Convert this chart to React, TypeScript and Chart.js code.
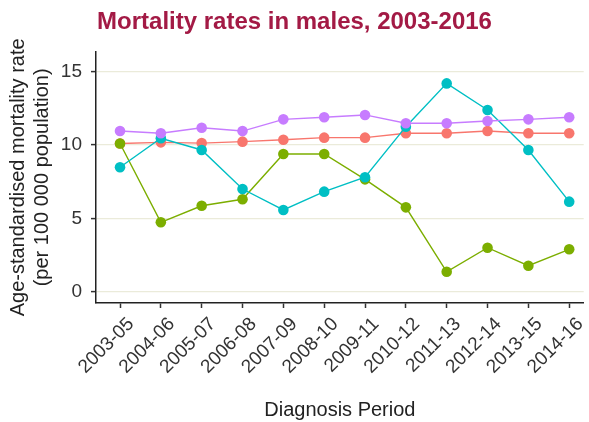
import React, { useEffect, useRef } from "react";
import { Chart, registerables } from "chart.js";

Chart.register(...registerables);

const periods = ["2003-05", "2004-06", "2005-07", "2006-08", "2007-09", "2008-10", "2009-11", "2010-12", "2011-13", "2012-14", "2013-15", "2014-16"];
const seriesRed = [10.1, 10.18, 10.13, 10.23, 10.36, 10.5, 10.5, 10.8, 10.8, 10.95, 10.8, 10.8];
const seriesGreen = [10.1, 4.73, 5.86, 6.3, 9.39, 9.39, 7.66, 5.75, 1.36, 3.0, 1.77, 2.89];
const seriesTeal = [8.48, 10.46, 9.66, 7.0, 5.57, 6.82, 7.8, 11.25, 14.2, 12.39, 9.66, 6.14];
const seriesPurple = [10.95, 10.8, 11.18, 10.95, 11.75, 11.89, 12.05, 11.48, 11.48, 11.64, 11.75, 11.89];
const yTicks = [0, 5, 10, 15];

const FONT = "'Liberation Sans', Arial, sans-serif";

function toPoints(vals: number[]) {
  return vals.map((v, i) => ({ x: i, y: v }));
}

export default function App() {
  const ref = useRef<HTMLCanvasElement | null>(null);
  useEffect(() => {
    if (!ref.current) return;
    const mk = (label: string, data: number[], color: string, order: number) => ({
      label,
      data: toPoints(data),
      borderColor: color,
      backgroundColor: color,
      pointBackgroundColor: color,
      pointBorderWidth: 0,
      pointRadius: 5.3,
      pointHoverRadius: 5.3,
      borderWidth: 1.4,
      tension: 0,
      order,
    });
    const chart = new Chart(ref.current, {
      type: "line",
      data: {
        datasets: [
          mk("red", seriesRed, "#F8766D", 4),
          mk("green", seriesGreen, "#7CAE00", 3),
          mk("teal", seriesTeal, "#00BFC4", 2),
          mk("purple", seriesPurple, "#C77CFF", 1),
        ],
      },
      options: {
        animation: false,
        responsive: false,
        devicePixelRatio: 1,
        events: [],
        layout: { padding: 0 },
        plugins: {
          legend: { display: false },
          tooltip: { enabled: false },
          title: {
            display: true,
            text: "Mortality rates in males, 2003-2016",
            color: "#A31A45",
            font: { family: FONT, size: 24, weight: "bold", lineHeight: 1.2 },
            padding: { top: 7.6, bottom: 15.3 },
          },
        },
        scales: {
          x: {
            type: "linear",
            min: -0.588,
            max: 11.355,
            afterFit: (s: any) => { s.height = 119; s.paddingLeft = 0; s.paddingRight = 0; },
            afterBuildTicks: (s: any) => { s.ticks = periods.map((_, i) => ({ value: i })); },
            ticks: {
              autoSkip: false,
              includeBounds: false,
              stepSize: 1,
              minRotation: 45,
              maxRotation: 45,
              padding: 5,
              labelOffset: 11,
              color: "#333",
              font: { family: FONT, size: 19 },
              callback: (v: any) => periods[Math.round(Number(v))] ?? "",
            },
            grid: {
              color: "rgba(0,0,0,0)",
              tickColor: "#333",
              tickLength: 5,
              tickWidth: 1.5,
              drawTicks: true,
            },
            border: { display: true, color: "#222", width: 1.5 },
            title: {
              display: true,
              text: "Diagnosis Period",
              color: "#222",
              font: { family: FONT, size: 20, lineHeight: 1.2 },
              padding: { top: 0, bottom: 0 },
            },
          },
          y: {
            type: "linear",
            min: -0.77,
            max: 16.36,
            afterFit: (s: any) => { s.width = 96; s.paddingTop = 0; s.paddingBottom = 0; },
            afterBuildTicks: (s: any) => { s.ticks = yTicks.map((v) => ({ value: v })); },
            ticks: {
              includeBounds: false,
              padding: 9,
              color: "#333",
              font: { family: FONT, size: 19 },
            },
            grid: {
              color: "#EBEBDA",
              lineWidth: 1.2,
              tickColor: "#333",
              tickLength: 5,
              tickWidth: 1.5,
              drawTicks: true,
            },
            border: { display: true, color: "#222", width: 1.5 },
            title: {
              display: true,
              text: ["Age-standardised mortality rate", "(per 100 000 population)"],
              color: "#222",
              font: { family: FONT, size: 20, lineHeight: 1.2 },
              padding: { top: 6, bottom: 0 },
            },
          },
        },
      },
    } as any);
    return () => chart.destroy();
  }, []);
  return (
    <div style={{ position: "fixed", left: 0, top: 0, width: 589, height: 422, background: "#fff" }}>
      <canvas ref={ref} width={589} height={422} style={{ display: "block", width: 589, height: 422 }} />
    </div>
  );
}
